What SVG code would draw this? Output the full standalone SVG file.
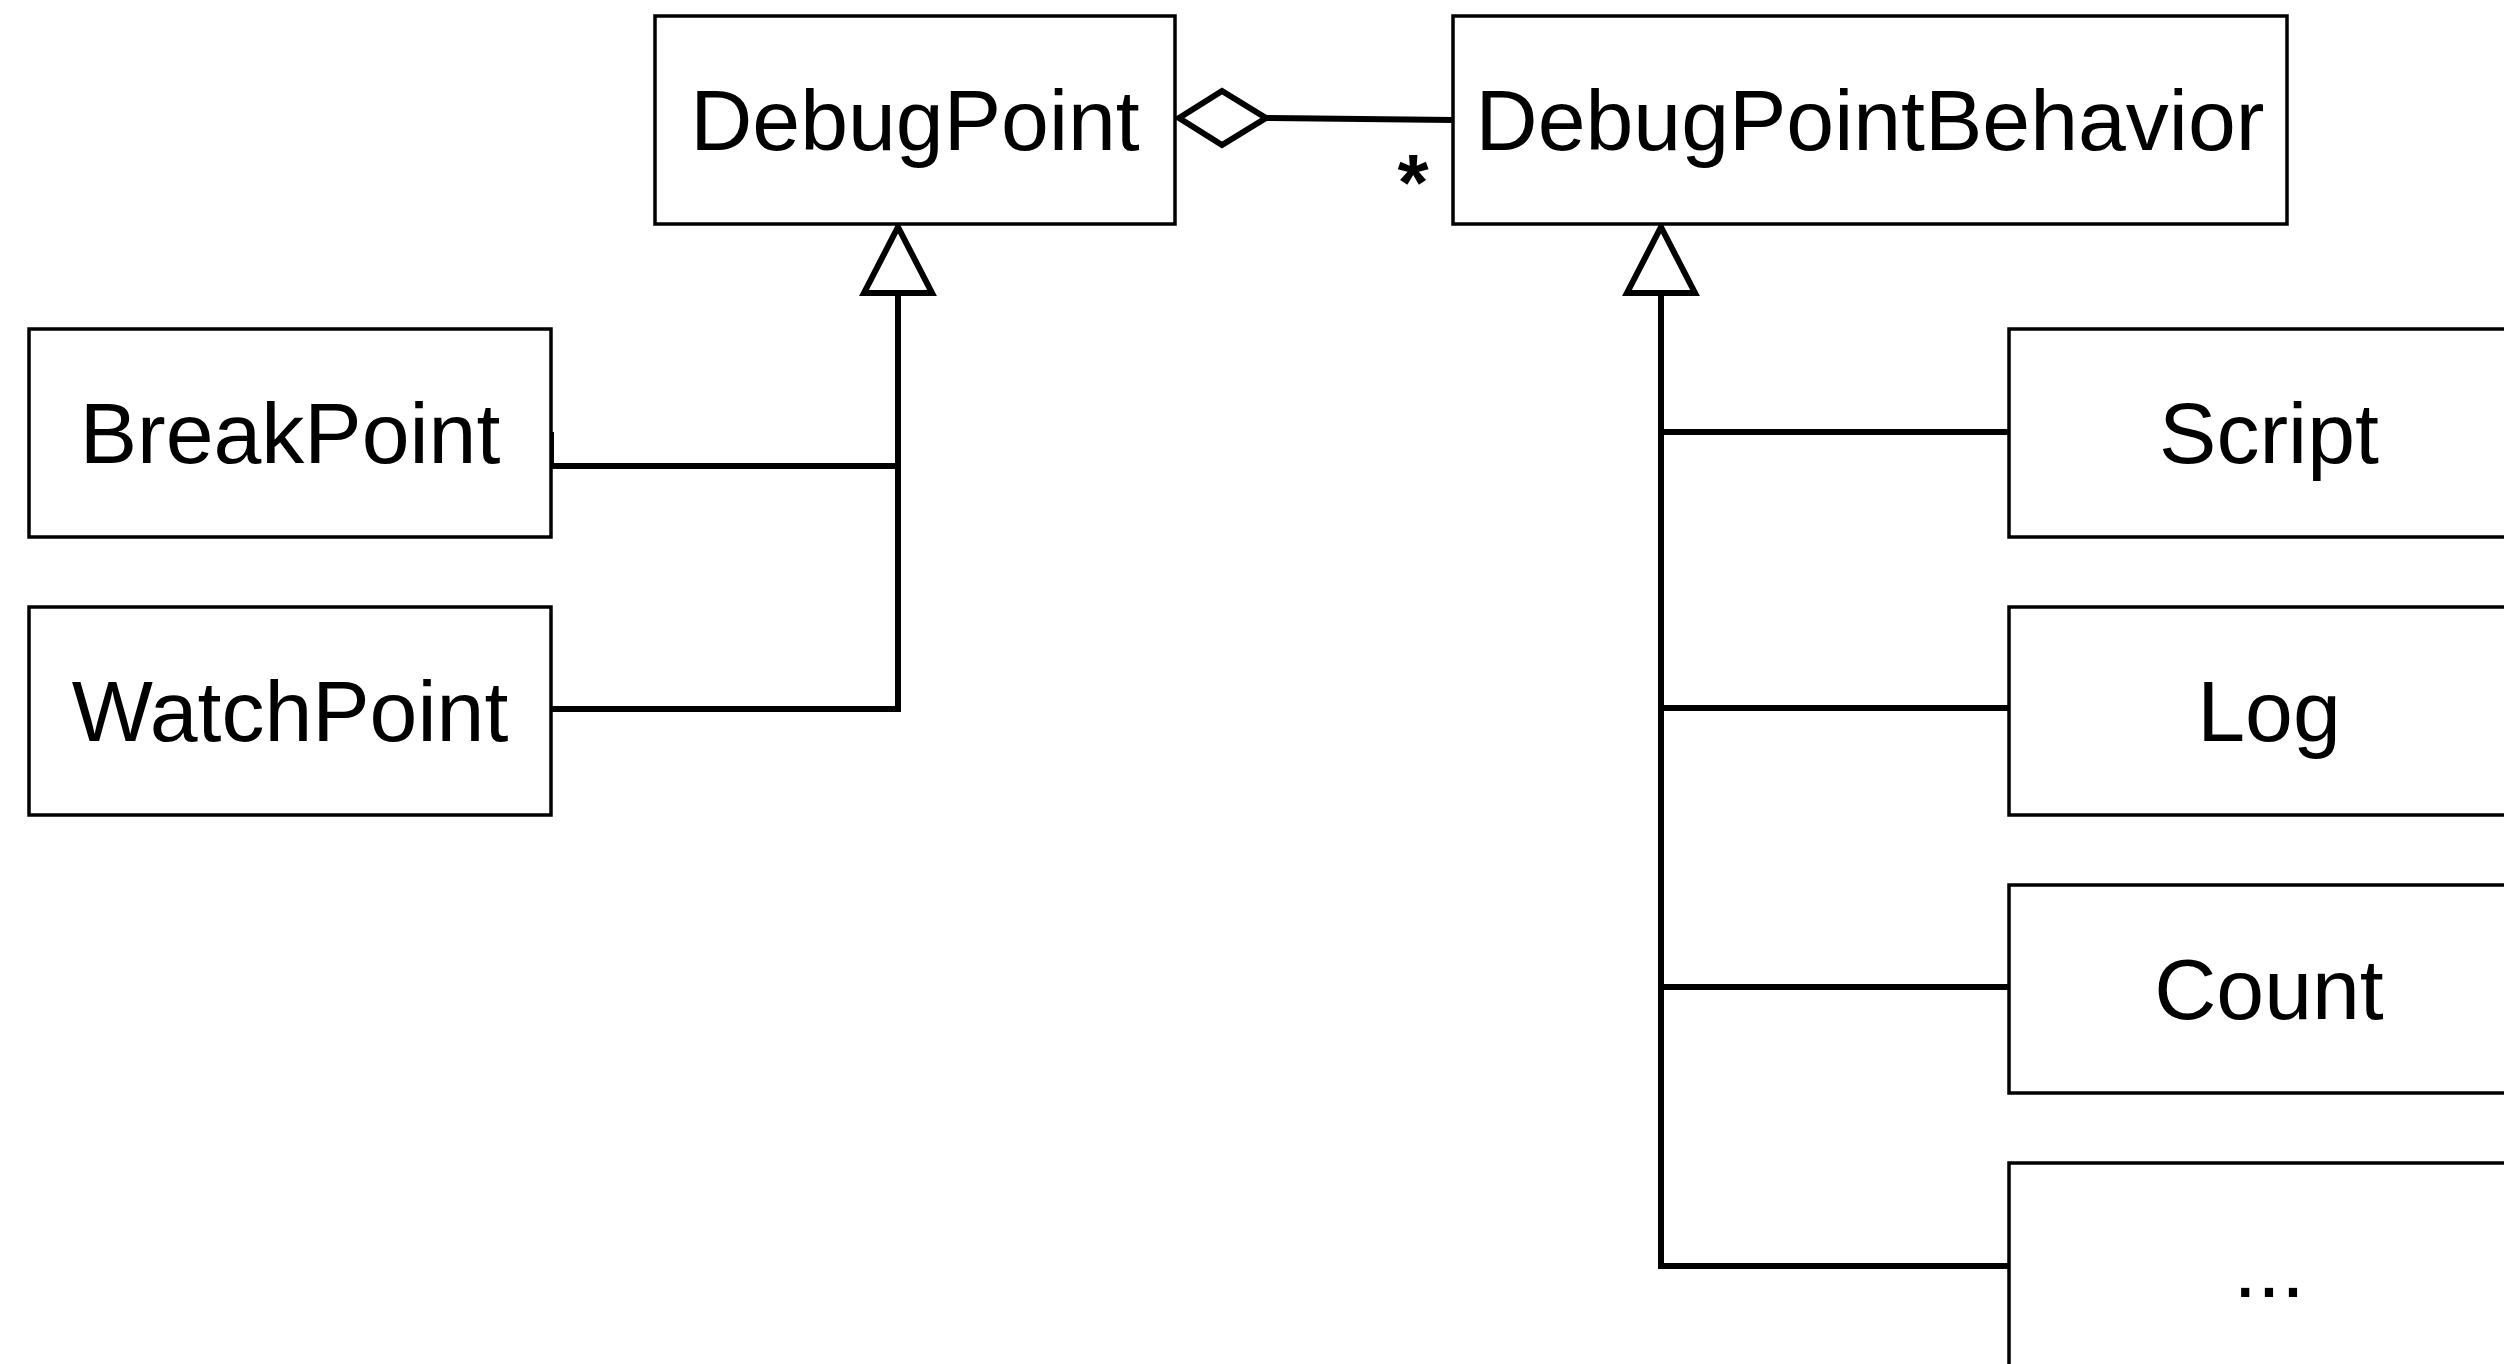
<svg xmlns="http://www.w3.org/2000/svg" width="2504" height="1364" viewBox="0 0 2504 1364">
  <style>
    .box { fill: #ffffff; stroke: #000000; stroke-width: 3.5; }
    .lbl { font-family: "Liberation Sans", Arial, Helvetica, sans-serif; font-size: 86px; fill: #000000; text-anchor: middle; }
    .mult { font-weight: bold; font-size: 80px; }
    .edge { fill: none; stroke: #000000; stroke-width: 6; }
    .head { fill: #ffffff; stroke: #000000; stroke-width: 6; stroke-linejoin: miter; }
  </style>
  <rect width="2504" height="1364" fill="#ffffff"/>

  <!-- connectors -->
  <g id="connectors">
    <!-- aggregation: DebugPoint <>- DebugPointBehavior -->
    <path class="edge" d="M 1266 118 L 1453 120"/>
    <polygon class="head" points="1179,118 1222,91 1266,118 1222,145"/>
    <text class="lbl mult" x="1413" y="210">*</text>

    <!-- generalization to DebugPoint -->
    <path class="edge" d="M 551 432 V 466 H 898"/>
    <path class="edge" d="M 551 709 H 898 V 293"/>
    <polygon class="head" points="898,227 932,293 864,293"/>

    <!-- generalization to DebugPointBehavior -->
    <path class="edge" d="M 2009 432 H 1661"/>
    <path class="edge" d="M 2009 708 H 1661"/>
    <path class="edge" d="M 2009 987 H 1661"/>
    <path class="edge" d="M 2009 1266 H 1661 V 293"/>
    <polygon class="head" points="1661,227 1695,293 1627,293"/>
  </g>

  <g id="debug-point">
    <rect class="box" x="655" y="16" width="520" height="208"/>
    <text class="lbl" x="915" y="150">DebugPoint</text>
  </g>

  <g id="debug-point-behavior">
    <rect class="box" x="1453" y="16" width="834" height="208"/>
    <text class="lbl" x="1870" y="150">DebugPointBehavior</text>
  </g>

  <g id="break-point">
    <rect class="box" x="29" y="329" width="522" height="208"/>
    <text class="lbl" x="290" y="463">BreakPoint</text>
  </g>

  <g id="watch-point">
    <rect class="box" x="29" y="607" width="522" height="208"/>
    <text class="lbl" x="290" y="741">WatchPoint</text>
  </g>

  <g id="script">
    <rect class="box" x="2009" y="329" width="520" height="208"/>
    <text class="lbl" x="2269" y="463">Script</text>
  </g>

  <g id="log">
    <rect class="box" x="2009" y="607" width="520" height="208"/>
    <text class="lbl" x="2269" y="741">Log</text>
  </g>

  <g id="count">
    <rect class="box" x="2009" y="885" width="520" height="208"/>
    <text class="lbl" x="2269" y="1019">Count</text>
  </g>

  <g id="more">
    <rect class="box" x="2009" y="1163" width="520" height="208"/>
    <text class="lbl" x="2269" y="1297">...</text>
  </g>
</svg>
